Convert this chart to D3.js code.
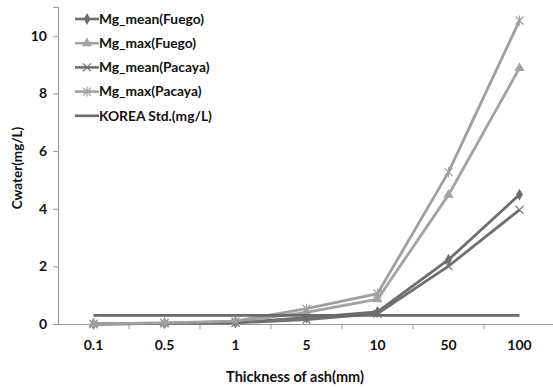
<!DOCTYPE html>
<html>
<head>
<meta charset="utf-8">
<script src="https://cdn.jsdelivr.net/npm/d3@7"></script>
<style>
  body { margin: 0; background: #fff; }
  text { font-family: Lato, "Open Sans", sans-serif; font-weight: bold; fill: #111; }
</style>
</head>
<body>
<div id="chart"></div>
<script>
const CATEGORIES = ["0.1", "0.5", "1", "5", "10", "50", "100"];
const MG_MEAN_FUEGO = [0, 0.02, 0.05, 0.22, 0.42, 2.23, 4.49];
const MG_MAX_FUEGO = [0, 0.03, 0.08, 0.4, 0.86, 4.48, 8.88];
const MG_MEAN_PACAYA = [0, 0.02, 0.04, 0.15, 0.36, 2.01, 3.96];
const MG_MAX_PACAYA = [0, 0.04, 0.1, 0.53, 1.05, 5.27, 10.53];
const KOREA_STD = [0.3, 0.3, 0.3, 0.3, 0.3, 0.3, 0.3];
const Y_TICKS = [0, 2, 4, 6, 8, 10];

const SERIES = [
  { name: "Mg_mean(Fuego)", values: MG_MEAN_FUEGO, color: "#6e6e6e", marker: "diamond" },
  { name: "Mg_max(Fuego)", values: MG_MAX_FUEGO, color: "#a3a3a3", marker: "triangle" },
  { name: "Mg_mean(Pacaya)", values: MG_MEAN_PACAYA, color: "#707070", marker: "x" },
  { name: "Mg_max(Pacaya)", values: MG_MAX_PACAYA, color: "#a0a0a0", marker: "star" },
  { name: "KOREA Std.(mg/L)", values: KOREA_STD, color: "#6a6a6a", marker: null }
];

const WIDTH = 553, HEIGHT = 388;
const MARGIN = { TOP: 7, RIGHT: -2, BOTTOM: 64, LEFT: 58 };
const CHART_W = WIDTH - MARGIN.LEFT - MARGIN.RIGHT;
const CHART_H = HEIGHT - MARGIN.TOP - MARGIN.BOTTOM;

const SVG = d3.select("#chart").append("svg")
  .attr("width", WIDTH).attr("height", HEIGHT);
const CHART = SVG.append("g")
  .attr("transform", "translate(" + MARGIN.LEFT + "," + MARGIN.TOP + ")");

const X_SCALE = d3.scaleBand().domain(CATEGORIES).range([0, CHART_W]);
const Y_SCALE = d3.scaleLinear().domain([0, 11]).range([CHART_H, 0]);

// y axis
const Y_AXIS = CHART.append("g").call(d3.axisLeft(Y_SCALE).tickValues(Y_TICKS).tickSize(5).tickPadding(6));
Y_AXIS.select(".domain").attr("stroke", "#999").attr("stroke-width", 1.2);
Y_AXIS.selectAll(".tick line").attr("stroke", "#999");
Y_AXIS.selectAll("text").style("font-size", "14px").style("font-family", "Lato, sans-serif").style("font-weight", "bold").attr("fill", "#111");

// x axis
const X_AXIS = CHART.append("g").attr("transform", "translate(0," + CHART_H + ")")
  .call(d3.axisBottom(X_SCALE).tickSize(0).tickPadding(16));
X_AXIS.select(".domain").attr("stroke", "#999").attr("stroke-width", 1.2);
X_AXIS.selectAll("text").style("font-size", "14px").style("font-family", "Lato, sans-serif").style("font-weight", "bold").attr("fill", "#111");
X_AXIS.selectAll(".sep").data(CATEGORIES.slice(1).concat(["end"])).enter().append("line")
  .attr("x1", (d, i) => X_SCALE.step() * (i + 1)).attr("x2", (d, i) => X_SCALE.step() * (i + 1))
  .attr("y1", 0).attr("y2", 5).attr("stroke", "#999");

const xc = (c) => X_SCALE(c) + X_SCALE.bandwidth() / 2;

function drawMarker(g, type, color) {
  if (type === "diamond") {
    g.append("path").attr("d", d3.symbol(d3.symbolDiamond, 40)()).attr("fill", color);
  } else if (type === "triangle") {
    g.append("path").attr("d", d3.symbol(d3.symbolTriangle, 45)()).attr("fill", color);
  } else if (type === "x") {
    g.append("path").attr("d", "M-4,-4L4,4M-4,4L4,-4").attr("stroke", color).attr("stroke-width", 1.2).attr("fill", "none");
  } else if (type === "star") {
    g.append("path").attr("d", "M-4,-4L4,4M-4,4L4,-4M0,-5L0,5").attr("stroke", color).attr("stroke-width", 1.2).attr("fill", "none");
  }
}

const LINE = d3.line().x((d, i) => xc(CATEGORIES[i])).y((d) => Y_SCALE(d));

SERIES.forEach((s) => {
  CHART.append("path").datum(s.values).attr("d", LINE)
    .attr("fill", "none").attr("stroke", s.color).attr("stroke-width", 2.8);
  if (s.marker) {
    s.values.forEach((v, i) => {
      const g = CHART.append("g").attr("transform", "translate(" + xc(CATEGORIES[i]) + "," + Y_SCALE(v) + ")");
      drawMarker(g, s.marker, s.color);
    });
  }
});

// legend
const LEGEND = SVG.append("g").attr("transform", "translate(75,19)");
SERIES.forEach((s, i) => {
  const row = LEGEND.append("g").attr("transform", "translate(0," + i * 24.2 + ")");
  row.append("line").attr("x1", 0).attr("x2", 24).attr("y1", 0).attr("y2", 0)
    .attr("stroke", s.color).attr("stroke-width", 2.6);
  if (s.marker) drawMarker(row.append("g").attr("transform", "translate(12,0)"), s.marker, s.color);
  row.append("text").attr("x", 24).attr("y", 0).attr("dy", "0.35em")
    .style("font-size", "13.8px").text(s.name);
});

// axis titles
SVG.append("text").attr("transform", "rotate(-90)")
  .attr("x", -168).attr("y", 22).attr("text-anchor", "middle")
  .style("font-size", "13.5px").text("Cwater(mg/L)");
SVG.append("text").attr("x", 295).attr("y", 382).attr("text-anchor", "middle")
  .style("font-size", "14.5px").text("Thickness of ash(mm)");
</script>
</body>
</html>
